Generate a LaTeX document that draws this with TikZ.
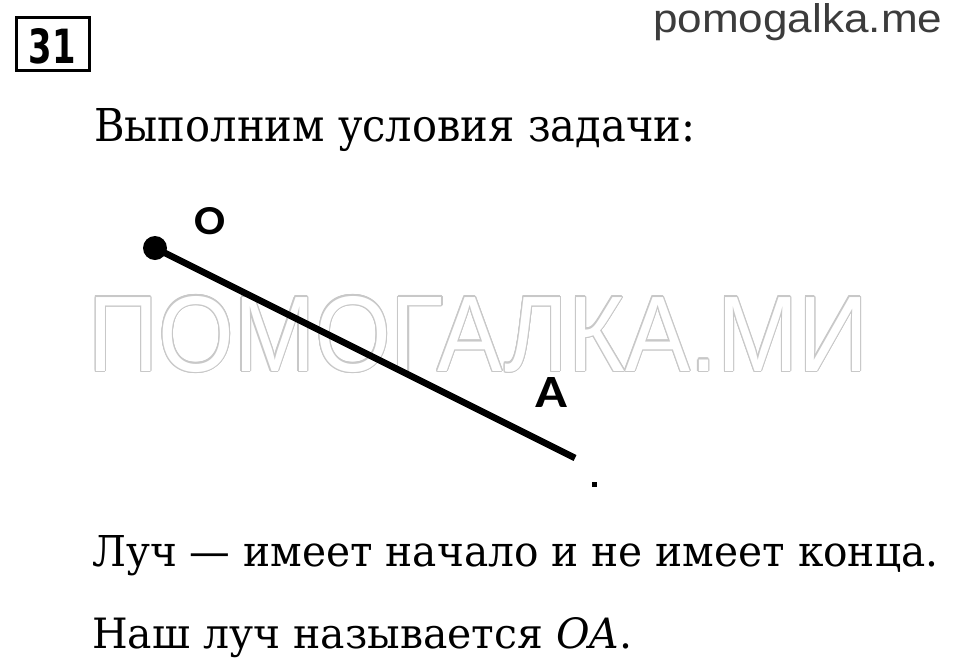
\documentclass[tikz,border=0pt]{standalone}
\usepackage{fontspec}
\usepackage{graphicx}
\usetikzlibrary{calc}
\setmainfont{DejaVu Serif}
\newfontfamily\labfont{Carlito}
\newfontfamily\webfont{Liberation Sans}
\newfontfamily\numfont{DejaVu Sans}
\newfontfamily\wmfont{Liberation Sans}
\definecolor{webgray}{HTML}{3C3C3C}
\definecolor{wmgray}{HTML}{C8C8C8}
\newcommand{\wmtext}{\resizebox{780pt}{75pt}{\wmfont ПОМОГАЛКА.МИ}}
\begin{document}
\begin{tikzpicture}[x=1pt,y=-1pt,
  txt/.style={inner sep=0pt, anchor=base west},
  lbl/.style={inner sep=0pt, anchor=base},
  ray/.style={line width=6.5pt},
  dotpt/.style={circle, fill=black, minimum size=24pt, inner sep=0pt},
  tinydot/.style={rectangle, fill=black, minimum size=5pt, inner sep=0pt},
  numbox/.style={draw, line width=3pt, minimum width=73pt, minimum height=53pt, inner sep=0pt}]
\useasboundingbox[fill=white] (0,0) rectangle (960,664);
% header
\node[numbox] (box) at (53,44) {};
\node[lbl] (num) at (52,63) {\resizebox{47pt}{35pt}{\numfont\bfseries 31}};
\node[txt, text=webgray] (web) at (653,32) {\resizebox{289pt}{29pt}{\webfont pomogalka.me}};
% first line
\node[txt] (t1) at (94,141) {\resizebox{601pt}{33pt}{Выполним условия задачи:}};
% watermark (outlined letters)
\foreach \a [count=\i] in {0,22.5,...,337.5}{
  \node[txt, text=wmgray] (wm\i) at ($(88,371)+(\a:1.1)$) {\wmtext};
}
\node[txt, text=white] (wm) at (88,371) {\wmtext};
% ray
\node[dotpt] (O) at (155,248) {};
\coordinate (E) at (575,458);
\draw[ray] (O.center) -- (E);
\node[tinydot] (d) at (594,484) {};
\node[lbl] (lO) at (210,234) {\resizebox{31pt}{27pt}{\labfont\bfseries O}};
\node[lbl] (lA) at (551,407) {\resizebox{32pt}{30pt}{\labfont\bfseries A}};
% bottom lines
\node[txt] (t2) at (92,566) {\resizebox{846pt}{31pt}{Луч — имеет начало и не имеет конца.}};
\node[txt] (t3) at (92,648) {\resizebox{540pt}{31pt}{Наш луч называется \textit{OA}.}};
\end{tikzpicture}
\end{document}
